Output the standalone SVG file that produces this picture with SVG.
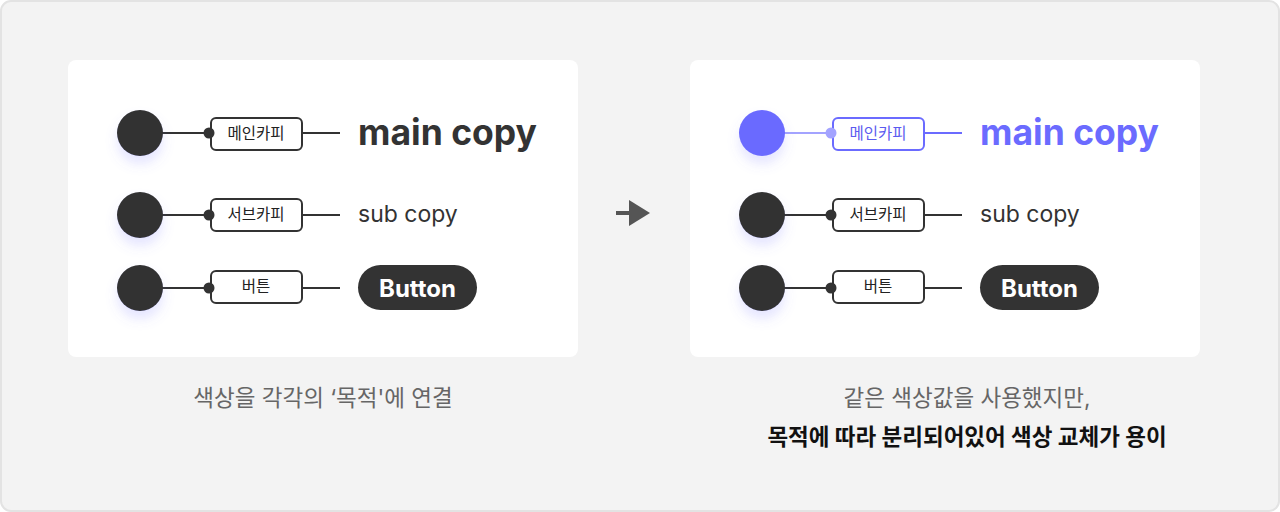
<svg xmlns="http://www.w3.org/2000/svg" width="1280" height="512" viewBox="0 0 1280 512">
<defs>
<filter id="sh" x="-80%" y="-80%" width="260%" height="300%">
<feGaussianBlur in="SourceAlpha" stdDeviation="6"/>
<feOffset dy="8" result="b"/>
<feFlood flood-color="#7070ff" flood-opacity="0.18"/>
<feComposite in2="b" operator="in"/>
<feMerge><feMergeNode/><feMergeNode in="SourceGraphic"/></feMerge>
</filter>
</defs>
<style>
text{font-family:Inter,"Noto Sans CJK KR","Noto Sans",sans-serif}
.card{fill:#fff}
.ln{stroke:#333;stroke-width:2;fill:none}
.pill{fill:#fff;stroke:#333;stroke-width:2}
.lbl{font-size:15.5px;fill:#222;text-anchor:middle}
.main{font-size:35.5px;font-weight:700;fill:#333}
.sub{font-size:23px;fill:#333}
.btn{fill:#333}
.btnt{font-size:24px;font-weight:700;fill:#fff;text-anchor:middle}
.cap{font-size:22.5px;fill:#666;text-anchor:middle}
.capb{font-size:22.5px;font-weight:700;fill:#111;text-anchor:middle}
.p .ln{stroke:#6b6bff}
.p .pill{stroke:#6b6bff}
.p .lbl{fill:#5b5bef}
</style>
<rect x="1" y="1" width="1278" height="510" rx="10" fill="#f3f3f3" stroke="#e3e3e3" stroke-width="2"/>
<rect class="card" x="68" y="60" width="510" height="297" rx="8"/>
<rect class="card" x="690" y="60" width="510" height="297" rx="8"/>

<g id="connectors">
<line class="ln" x1="162" y1="133" x2="208" y2="133"/>
<line class="ln" x1="302" y1="133" x2="340" y2="133"/>
<line class="ln" x1="162" y1="215" x2="208" y2="215"/>
<line class="ln" x1="302" y1="215" x2="340" y2="215"/>
<line class="ln" x1="162" y1="288" x2="208" y2="288"/>
<line class="ln" x1="302" y1="288" x2="340" y2="288"/>
<line x1="784" y1="133" x2="830" y2="133" stroke="#a3a3ff" stroke-width="2"/>
<line x1="924" y1="133" x2="962" y2="133" stroke="#6b6bff" stroke-width="2"/>
<line class="ln" x1="784" y1="215" x2="830" y2="215"/>
<line class="ln" x1="924" y1="215" x2="962" y2="215"/>
<line class="ln" x1="784" y1="288" x2="830" y2="288"/>
<line class="ln" x1="924" y1="288" x2="962" y2="288"/>
<line x1="616" y1="213" x2="632" y2="213" stroke="#555" stroke-width="4"/>
<polygon points="629,200 650,213 629,226" fill="#555"/>
</g>

<g id="l-main">
<circle cx="140" cy="133" r="23" fill="#333" filter="url(#sh)"/>
<rect class="pill" x="211" y="118" width="91" height="32" rx="5"/>
<circle cx="209" cy="133" r="5.5" fill="#333"/>
<text class="lbl" x="256" y="139">메인카피</text>
<text class="main" x="358" y="145">main copy</text>
</g>
<g id="l-sub">
<circle cx="140" cy="215" r="23" fill="#333" filter="url(#sh)"/>
<rect class="pill" x="211" y="199" width="91" height="32" rx="5"/>
<circle cx="209" cy="215" r="5.5" fill="#333"/>
<text class="lbl" x="256" y="220">서브카피</text>
<text class="sub" x="358" y="222">sub copy</text>
</g>
<g id="l-btn">
<circle cx="140" cy="288" r="23" fill="#333" filter="url(#sh)"/>
<rect class="pill" x="211" y="271" width="91" height="32" rx="5"/>
<circle cx="209" cy="288" r="5.5" fill="#333"/>
<text class="lbl" x="256" y="292">버튼</text>
<rect class="btn" x="358" y="265" width="119" height="45" rx="22.5"/>
<text class="btnt" x="417.5" y="297">Button</text>
</g>

<g id="r-main" class="p">
<circle cx="762" cy="133" r="23" fill="#6b6bff" filter="url(#sh)"/>
<rect class="pill" x="833" y="118" width="91" height="32" rx="5"/>
<circle cx="831" cy="133" r="5.5" fill="#a3a3ff"/>
<text class="lbl" x="878" y="139">메인카피</text>
<text class="main" x="980" y="145" style="fill:#6b6bff">main copy</text>
</g>
<g id="r-sub">
<circle cx="762" cy="215" r="23" fill="#333" filter="url(#sh)"/>
<rect class="pill" x="833" y="199" width="91" height="32" rx="5"/>
<circle cx="831" cy="215" r="5.5" fill="#333"/>
<text class="lbl" x="878" y="220">서브카피</text>
<text class="sub" x="980" y="222">sub copy</text>
</g>
<g id="r-btn">
<circle cx="762" cy="288" r="23" fill="#333" filter="url(#sh)"/>
<rect class="pill" x="833" y="271" width="91" height="32" rx="5"/>
<circle cx="831" cy="288" r="5.5" fill="#333"/>
<text class="lbl" x="878" y="292">버튼</text>
<rect class="btn" x="980" y="265" width="119" height="45" rx="22.5"/>
<text class="btnt" x="1039.5" y="297">Button</text>
</g>

<g id="captions">
<text class="cap" x="323" y="406">색상을 각각의 ‘목적'에 연결</text>
<text class="cap" x="967" y="406">같은 색상값을 사용했지만,</text>
<text class="capb" x="967" y="445">목적에 따라 분리되어있어 색상 교체가 용이</text>
</g>
</svg>
